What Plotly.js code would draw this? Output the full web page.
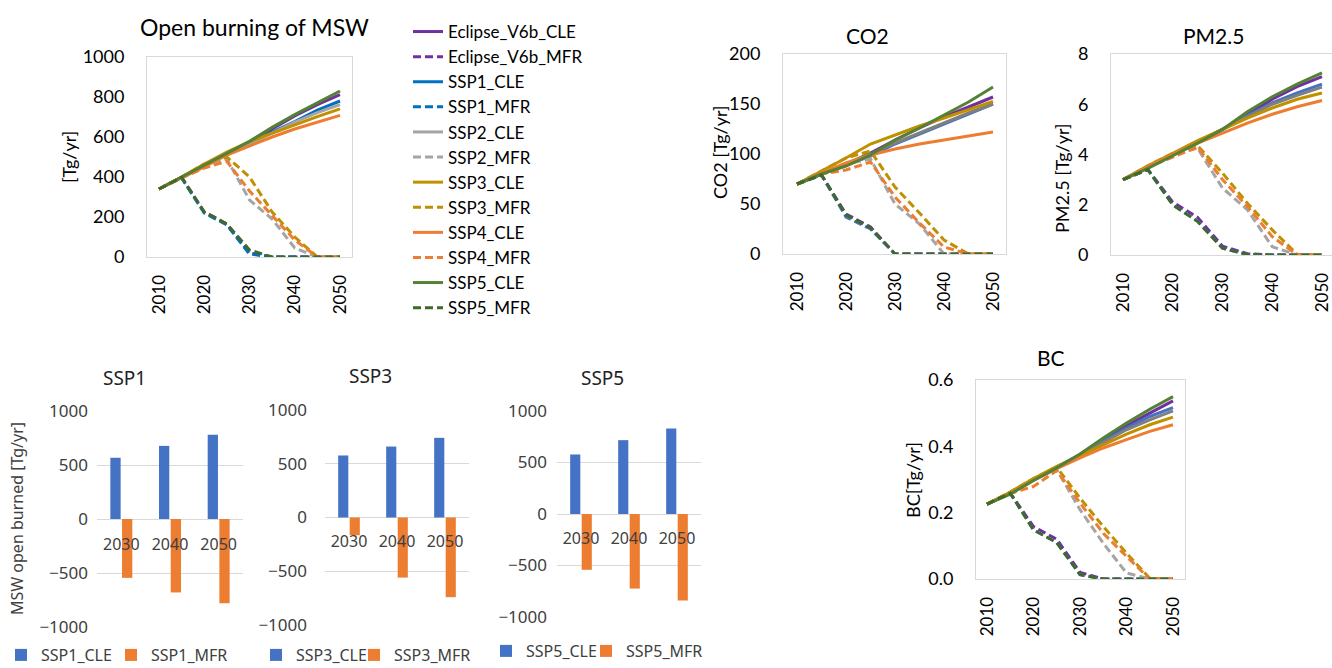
<!DOCTYPE html>
<html><head><meta charset="utf-8">
<script src="https://cdn.plot.ly/plotly-3.0.1.min.js"></script>
<style>html,body{margin:0;padding:0;background:#fff;} #chart{width:1332px;height:668px;}</style>
</head><body><div id="chart"></div>
<script>
// ---------------- DATA ----------------
const years = [2010, 2015, 2020, 2025, 2030, 2035, 2040, 2045, 2050];
const seriesNames = ['Eclipse_V6b_CLE', 'Eclipse_V6b_MFR', 'SSP1_CLE', 'SSP1_MFR', 'SSP2_CLE', 'SSP2_MFR',
                     'SSP3_CLE', 'SSP3_MFR', 'SSP4_CLE', 'SSP4_MFR', 'SSP5_CLE', 'SSP5_MFR'];
// Open burning of MSW [Tg/yr]
const mswBurned = [
  [340, 398, 460, 518, 568, 640, 705, 762, 812],
  [340, 398, 225, 165, 20, 0, 0, 0, 0],
  [340, 398, 460, 518, 567, 625, 677, 735, 780],
  [340, 395, 220, 160, 15, 0, 0, 0, 0],
  [340, 398, 460, 515, 565, 622, 675, 722, 762],
  [340, 398, 455, 490, 285, 190, 45, 0, 0],
  [340, 400, 465, 525, 577, 620, 660, 702, 741],
  [340, 400, 465, 500, 400, 225, 100, 0, 0],
  [340, 395, 450, 510, 555, 600, 640, 675, 708],
  [340, 395, 445, 478, 330, 205, 85, 0, 0],
  [340, 398, 460, 518, 578, 648, 712, 772, 830],
  [340, 398, 225, 165, 35, 0, 0, 0, 0]
];
// CO2 [Tg/yr]
const co2Emissions = [
  [70, 80, 90, 101, 114, 126, 137, 147, 157],
  [70, 79, 40, 27, 0, 0, 0, 0, 0],
  [70, 80, 89, 98, 110, 120, 130, 140, 150],
  [70, 79, 37, 25, 0, 0, 0, 0, 0],
  [70, 80, 90, 100, 111, 121, 131, 141, 150],
  [70, 80, 90, 95, 50, 30, 0, 0, 0],
  [70, 83, 96, 110, 119, 128, 136, 144, 152.6],
  [70, 83, 96, 103, 67, 41, 14, 0, 0],
  [70, 81, 91, 99, 105, 110, 114, 118, 122],
  [70, 80, 84, 92, 57, 31, 7, 0, 0],
  [70, 80, 88, 99, 114, 126, 139, 152, 167],
  [70, 79, 39, 26, 0, 0, 0, 0, 0]
];
// PM2.5 [Tg/yr]
const pm25Emissions = [
  [3.0, 3.5, 4.0, 4.5, 5.0, 5.6, 6.2, 6.7, 7.1],
  [3.0, 3.4, 2.1, 1.5, 0.35, 0.05, 0, 0, 0],
  [3.0, 3.5, 4.0, 4.5, 5.0, 5.55, 6.05, 6.45, 6.8],
  [3.0, 3.4, 2.0, 1.35, 0.27, 0.02, 0, 0, 0],
  [3.0, 3.5, 4.0, 4.5, 4.98, 5.5, 6.0, 6.35, 6.68],
  [3.0, 3.5, 4.0, 4.25, 2.66, 1.8, 0.33, 0, 0],
  [3.0, 3.55, 4.05, 4.55, 5.0, 5.45, 5.85, 6.2, 6.45],
  [3.0, 3.55, 4.05, 4.35, 3.26, 2.06, 1.0, 0.03, 0],
  [3.0, 3.5, 4.0, 4.45, 4.85, 5.25, 5.6, 5.9, 6.15],
  [3.0, 3.5, 3.9, 4.3, 3.0, 1.93, 0.73, 0, 0],
  [3.0, 3.45, 3.95, 4.45, 5.0, 5.7, 6.3, 6.8, 7.25],
  [3.0, 3.4, 2.0, 1.33, 0.27, 0.02, 0, 0, 0]
];
// BC [Tg/yr]
const bcEmissions = [
  [0.226, 0.259, 0.300, 0.337, 0.375, 0.420, 0.462, 0.500, 0.537],
  [0.226, 0.259, 0.158, 0.120, 0.020, 0, 0, 0, 0],
  [0.226, 0.259, 0.300, 0.337, 0.373, 0.415, 0.455, 0.490, 0.517],
  [0.226, 0.259, 0.148, 0.110, 0.013, 0, 0, 0, 0],
  [0.226, 0.259, 0.300, 0.336, 0.372, 0.412, 0.450, 0.480, 0.507],
  [0.226, 0.259, 0.300, 0.330, 0.209, 0.108, 0.018, 0, 0],
  [0.226, 0.262, 0.303, 0.340, 0.372, 0.405, 0.437, 0.465, 0.488],
  [0.226, 0.262, 0.303, 0.337, 0.244, 0.158, 0.078, 0.002, 0],
  [0.226, 0.258, 0.297, 0.333, 0.365, 0.395, 0.420, 0.445, 0.465],
  [0.226, 0.258, 0.279, 0.327, 0.229, 0.138, 0.068, 0, 0],
  [0.226, 0.256, 0.297, 0.335, 0.377, 0.425, 0.470, 0.512, 0.550],
  [0.226, 0.259, 0.148, 0.110, 0.013, 0, 0, 0, 0]
];
// Bar panels: MSW open burned [Tg/yr]
const barYears = ['2030', '2040', '2050'];
const ssp1Cle = [567, 677, 780];
const ssp1Mfr = [-545, -680, -780];
const ssp3Cle = [577, 660, 741];
const ssp3Mfr = [-165, -559, -741];
const ssp5Cle = [578, 717, 831];
const ssp5Mfr = [-542, -724, -841];

// ---------------- STYLE ----------------
const W = 1332, H = 668;
const fx = p => p / W;
const fy = p => 1 - p / H;
const colorsA = ['#7030A0', '#7030A0', '#0070C0', '#0070C0', '#A5A5A5', '#A5A5A5',
                 '#BF9000', '#BF9000', '#ED7D31', '#ED7D31', '#548235', '#3F6A2A'];
const colorsB = ['#7030A0', '#7030A0', '#4472C4', '#4472C4', '#7F7F7F', '#A5A5A5',
                 '#BF9000', '#BF9000', '#ED7D31', '#ED7D31', '#548235', '#3F6A2A'];
const LINEFONT = 'Lato, "Liberation Sans", sans-serif';
const BARFONT = '"Noto Sans", "Open Sans", sans-serif';

const traces = [];
function addLinePanel(data, xa, ya, colors, legendOn) {
  data.forEach((vals, i) => {
    const isMfr = seriesNames[i].endsWith('MFR');
    traces.push({
      type: 'scatter', mode: 'lines', x: years, y: vals,
      name: seriesNames[i], legendgroup: seriesNames[i], showlegend: legendOn,
      xaxis: xa, yaxis: ya,
      line: {color: colors[i], width: 3, dash: isMfr ? '8px,4px' : 'solid'},
      hoverinfo: 'skip'
    });
  });
}
addLinePanel(mswBurned, 'x', 'y', colorsA, true);
addLinePanel(co2Emissions, 'x2', 'y2', colorsB, false);
addLinePanel(pm25Emissions, 'x3', 'y3', colorsB, false);
addLinePanel(bcEmissions, 'x4', 'y4', colorsB, false);

function addBarPanel(cle, mfr, label, xa, ya, legA, legB) {
  traces.push({type: 'bar', x: barYears, y: cle, name: label + '_CLE', xaxis: xa, yaxis: ya,
               marker: {color: '#4472C4'}, legend: legA, hoverinfo: 'skip'});
  traces.push({type: 'bar', x: barYears, y: mfr, name: label + '_MFR', xaxis: xa, yaxis: ya,
               marker: {color: '#ED7D31'}, legend: legB, hoverinfo: 'skip'});
}
addBarPanel(ssp1Cle, ssp1Mfr, 'SSP1', 'x5', 'y5', 'legend2', 'legend3');
addBarPanel(ssp3Cle, ssp3Mfr, 'SSP3', 'x6', 'y6', 'legend4', 'legend5');
addBarPanel(ssp5Cle, ssp5Mfr, 'SSP5', 'x7', 'y7', 'legend6', 'legend7');

const frame = '#D9D9D9';
function lineX(dom, range, anchor, mirror) {
  return {domain: dom, range: range, anchor: anchor, tickvals: [2010, 2020, 2030, 2040, 2050],
          tickangle: -90, showgrid: false, zeroline: false, showline: true, linecolor: frame,
          linewidth: 1, mirror: mirror, ticks: '', ticklabelstandoff: 10,
          tickfont: {family: LINEFONT, size: 17, color: '#000'}};
}
function lineY(dom, range, dtick, anchor, mirror, fmt) {
  return {domain: dom, range: range, dtick: dtick, anchor: anchor, showgrid: false, zeroline: false,
          showline: true, linecolor: frame, linewidth: 1, mirror: mirror, ticks: '',
          ticklabelstandoff: 18, tickformat: fmt || '',
          tickfont: {family: LINEFONT, size: 18, color: '#000'}};
}
function barX(dom, pos) {
  return {domain: dom, anchor: 'free', position: pos, type: 'category', showgrid: false,
          zeroline: false, showline: false, ticks: '', ticklabelstandoff: 13,
          tickfont: {family: BARFONT, size: 16, color: '#404040'}};
}
function barY(dom, anchor, standoff) {
  return {domain: dom, anchor: anchor, range: [-1000, 1000], dtick: 500, showgrid: true,
          gridcolor: frame, gridwidth: 1, zeroline: false, showline: false, ticks: '',
          ticklabelstandoff: standoff,
          tickfont: {family: BARFONT, size: 17, color: '#404040'}};
}
function barLegend(x, y) {
  return {orientation: 'h', x: fx(x), y: fy(y), xanchor: 'left', yanchor: 'middle',
          bgcolor: 'rgba(0,0,0,0)', borderwidth: 0,
          font: {family: BARFONT, size: 16, color: '#404040'}};
}

const ann = [];
function text(t, x, y, size, fam, angle, color) {
  ann.push({text: t, x: fx(x), y: fy(y), xref: 'paper', yref: 'paper', showarrow: false,
            xanchor: 'center', yanchor: 'middle', textangle: angle || 0,
            font: {family: fam, size: size, color: color || '#000'}});
}
text('Open burning of MSW', 254, 27, 23, LINEFONT);
text('CO2', 867, 35, 21, LINEFONT);
text('PM2.5', 1213, 36, 21, LINEFONT);
text('BC', 1051, 357, 21, LINEFONT);
text('[Tg/yr]', 69, 157, 18, LINEFONT, -90);
text('CO2 [Tg/yr]', 720, 152, 18, LINEFONT, -90);
text('PM2.5 [Tg/yr]', 1062, 178, 18, LINEFONT, -90);
text('BC[Tg/yr]', 913, 480, 18, LINEFONT, -90);
text('SSP1', 125, 378, 19, BARFONT, 0, '#222');
text('SSP3', 370, 376, 19, BARFONT, 0, '#222');
text('SSP5', 602, 378, 19, BARFONT, 0, '#222');
text('MSW open burned [Tg/yr]', 17, 519, 16, BARFONT, -90, '#404040');

const layout = {
  width: W, height: H, margin: {l: 0, r: 0, t: 0, b: 0, autoexpand: false},
  paper_bgcolor: '#fff', plot_bgcolor: 'rgba(0,0,0,0)',
  showlegend: true, barmode: 'group', bargap: 0.52, bargroupgap: 0.12,
  xaxis: lineX([fx(147), fx(352)], [2007.35, 2052.65], 'y', true),
  yaxis: lineY([fy(257), fy(57)], [0, 1000], 200, 'x', true),
  xaxis2: lineX([fx(783), fx(1006)], [2007.14, 2052.65], 'y2', true),
  yaxis2: lineY([fy(254), fy(54)], [0, 200], 50, 'x2', true),
  xaxis3: lineX([fx(1111), 1], [2007.59, 2052.01], 'y3', true),
  yaxis3: lineY([fy(255), fy(54)], [0, 8], 2, 'x3', false),
  xaxis4: lineX([fx(976), fx(1185)], [2007.63, 2052.58], 'y4', true),
  yaxis4: lineY([fy(579), fy(380)], [0, 0.6], 0.2, 'x4', true, '.1f'),
  xaxis5: barX([fx(97), fx(243)], fy(520)),
  yaxis5: barY([fy(627), fy(411)], 'x5', 8),
  xaxis6: barX([fx(325), fx(469)], fy(517)),
  yaxis6: barY([fy(625), fy(410)], 'x6', 17),
  xaxis7: barX([fx(557), fx(701)], fy(514)),
  yaxis7: barY([fy(617), fy(411)], 'x7', 9),
  legend: {x: fx(408), y: fy(14), xanchor: 'left', yanchor: 'top', bgcolor: 'rgba(0,0,0,0)',
           borderwidth: 0, tracegroupgap: 7.3, traceorder: 'normal',
           font: {family: LINEFONT, size: 17, color: '#000'}},
  legend2: barLegend(1, 655),
  legend3: barLegend(111, 655),
  legend4: barLegend(256, 655),
  legend5: barLegend(354, 655),
  legend6: barLegend(486, 651),
  legend7: barLegend(586, 651),
  annotations: ann
};
Plotly.newPlot('chart', traces, layout, {displayModeBar: false, staticPlot: true});
</script></body></html>
